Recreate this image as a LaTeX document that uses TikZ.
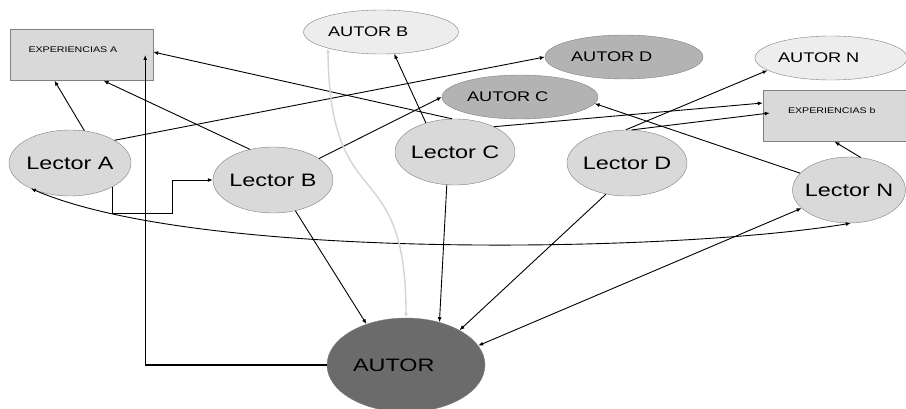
\documentclass[tikz,border=0pt]{standalone}
\usepackage{fontspec}
\setmainfont{Liberation Sans}[FakeStretch=1.3]
\usepackage{xcolor}
\usepackage{tikz}
\usetikzlibrary{shapes.geometric,arrows.meta}

\definecolor{lectorgray}{HTML}{D9D9D9}
\definecolor{autorlight}{HTML}{EDEDED}
\definecolor{autormid}{HTML}{B3B3B3}
\definecolor{autordark}{HTML}{6B6B6B}
\definecolor{bordergray}{HTML}{808080}
\definecolor{curvegray}{HTML}{D4D4D4}

\begin{document}
\begin{tikzpicture}[x=1pt, y=-1pt, >={Latex[length=5pt,width=4pt]},
	lector/.style={ellipse, minimum width=120pt, minimum height=66pt, inner xsep=-15pt, draw=bordergray, fill=lectorgray, font=\fontsize{18}{20}\selectfont},
	autor/.style={ellipse, minimum height=44pt, inner sep=0pt, text width=106pt, align=left, draw=bordergray, font=\fontsize{14}{16}\selectfont},
	expbox/.style={rectangle, minimum width=143pt, minimum height=51pt, align=left, text depth=11pt, draw=bordergray, fill=lectorgray, font=\fontsize{8.2}{10}\selectfont},
	link/.style={->, draw=black, line width=0.9pt},
	dlink/.style={<->, draw=black, line width=0.9pt}]
	\useasboundingbox (0,0) rectangle (906,409);
	\node[expbox, text width=106pt] at (81.5,55)(expA){EXPERIENCIAS  A};
	\node[expbox, text width=93pt] at (834.5,116)(expB){EXPERIENCIAS b};
	\node[autor, fill=autorlight, minimum width=155pt] at (381,32)(autB){AUTOR B};
	\node[autor, fill=autormid, minimum width=158pt] at (624,57)(autD){AUTOR D};
	\node[autor, fill=autormid, minimum width=156pt] at (520,97)(autC){AUTOR C};
	\node[autor, fill=autorlight, minimum width=152pt] at (831,58)(autN){AUTOR N};
	\node[lector, minimum width=122pt] at (70,163)(lecA){Lector A};
	\node[lector] at (273,180)(lecB){Lector B};
	\node[lector] at (455,152)(lecC){Lector C};
	\node[lector] at (627,163)(lecD){Lector D};
	\node[lector, minimum width=113pt] at (849,190)(lecN){Lector N};
	\node[autor, fill=autordark, minimum width=158pt, minimum height=94pt, font=\fontsize{18}{20}\selectfont] at (406,365)(aut){AUTOR};
	% hacia las experiencias
	\draw[link](lecA.66) -- ([xshift=-27pt]expA.south);
	\draw[link](lecB.127) -- ([xshift=22pt]expA.south);
	\draw[link](lecC.95) -- ([yshift=3pt]expA.east);
	\draw[link](lecC.33) -- ([yshift=13pt]expB.west);
	\draw[link](lecD.82) -- ([xshift=7pt,yshift=3pt]expB.west);
	\draw[link](lecN.70) -- (expB.south);
	\draw[link, line width=1.1pt](aut.west) -| ([xshift=-8pt]expA.east);
	% hacia los otros autores
	\draw[link](lecA.27) -- (autD.west);
	\draw[link](lecB.25) -- (autC.west);
	\draw[link](lecC.135) -- (autB.-59);
	\draw[link](lecD.92) -- (autN.191);
	\draw[link](lecN.161) -- (autC.-5);
	% entre lectores
	\draw[link](lecA.-29) |- (172,213) |- (lecB.west);
	\draw[dlink](lecA.213) .. controls (200,262) and (680,252) .. (lecN.-87);
	% hacia el autor
	\draw[link](lecB.-54) -- (aut.134);
	\draw[link](lecC.-104) -- (aut.52);
	\draw[link](lecD.-124) -- (aut.33);
	\draw[dlink](lecN.201) -- (aut.15);
	\draw[dlink, draw=curvegray, line width=1.4pt](autB.197) .. controls (330,220) and (406,150) .. (aut.north);
\end{tikzpicture}
\end{document}
